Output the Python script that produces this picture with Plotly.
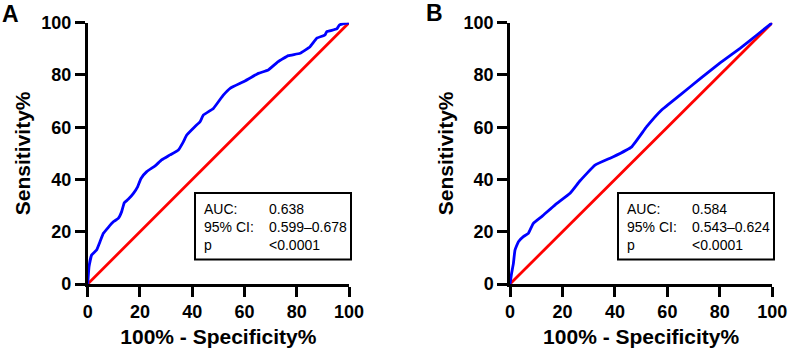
import plotly.graph_objects as go

# Panel A ROC curve (100% - Specificity%, Sensitivity%)
a_fpr = [0, 0.5, 1.5, 3.4, 4.7, 6.0, 7.9, 9.8, 11.7, 13.0, 14.0, 15.5, 17.5, 19.1, 20.4, 22.6,
         25.8, 28.3, 31.5, 34.7, 36.6, 37.9, 41.0, 43.0, 44.3, 48.1, 51.9, 54.5, 59.6, 65.3,
         69.1, 72.9, 76.8, 81.3, 85.1, 87.7, 90.8, 91.5, 95.3, 96.3, 98.5, 100]
a_tpr = [0, 6.6, 11.1, 13.0, 16.2, 19.4, 21.7, 23.8, 25.1, 27.7, 31.1, 32.4, 34.7, 37.2, 40.4, 43.0,
         45.2, 47.5, 49.4, 51.3, 54.4, 57.0, 60.2, 62.1, 64.7, 67.2, 72.3, 74.9, 77.4, 80.6,
         81.9, 85.1, 87.4, 88.3, 90.8, 94.1, 95.3, 96.6, 97.6, 99.1, 99.7, 100]

# Panel B ROC curve
b_fpr = [0, 0.6, 1.3, 1.9, 3.2, 5.1, 7.0, 8.9, 12.1, 17.2, 22.9, 26.7, 32.4, 39.4, 46.4,
         52.1, 57.8, 64.8, 72.4, 80.1, 87.7, 94.0, 100]
b_tpr = [0, 4.0, 7.9, 13.0, 16.2, 18.1, 19.4, 23.2, 25.8, 30.3, 34.7, 39.5, 45.5, 48.7, 52.5,
         60.2, 66.6, 72.3, 78.5, 84.6, 90.2, 95.2, 100]

ref_line = [0, 100]
tick_vals = [0, 20, 40, 60, 80, 100]

stats_labels = ["AUC:", "95% CI:", "p"]
a_stats = ["0.638", "0.599–0.678", "<0.0001"]
b_stats = ["0.584", "0.543–0.624", "<0.0001"]

BLUE = "#0000FF"
RED = "#FF0000"
FONT = "Liberation Sans, Arial, sans-serif"
W, H = 790, 355

fig = go.Figure()

for xa, ya, fpr, tpr in [("x", "y", a_fpr, a_tpr), ("x2", "y2", b_fpr, b_tpr)]:
    fig.add_trace(go.Scatter(x=ref_line, y=ref_line, mode="lines", xaxis=xa, yaxis=ya,
                             line=dict(color=RED, width=2.8), cliponaxis=False, showlegend=False))
    fig.add_trace(go.Scatter(x=fpr, y=tpr, mode="lines", xaxis=xa, yaxis=ya,
                             line=dict(color=BLUE, width=2.8, shape="spline", smoothing=0.3),
                             cliponaxis=False, showlegend=False))

axis_common = dict(range=[0, 100], tickvals=tick_vals, showgrid=False, zeroline=False,
                   showline=True, linecolor="black", linewidth=2.5, ticks="outside",
                   ticklen=10, tickwidth=2.5, tickcolor="black", automargin=False,
                   tickfont=dict(family=FONT, size=18, color="black", weight="bold"))

title_font = dict(family=FONT, size=21, color="black", weight="bold")

fig.update_layout(
    width=W, height=H,
    margin=dict(l=0, r=0, t=0, b=0),
    paper_bgcolor="white", plot_bgcolor="white",
    xaxis=dict(domain=[87.7/W, 349/W], anchor="y",
               title=dict(text="100% - Specificity%", font=title_font, standoff=8), **axis_common),
    yaxis=dict(domain=[1-284/H, 1-22.7/H], anchor="x",
               title=dict(text="Sensitivity%", font=title_font, standoff=5), **axis_common),
    xaxis2=dict(domain=[510/W, 772.3/W], anchor="y2",
                title=dict(text="100% - Specificity%", font=title_font, standoff=8), **axis_common),
    yaxis2=dict(domain=[1-284/H, 1-22.7/H], anchor="x2",
                title=dict(text="Sensitivity%", font=title_font, standoff=5), **axis_common),
)

# Panel letters
fig.add_annotation(text="<b>A</b>", x=0, y=1-14/H, xref="paper", yref="paper",
                   xanchor="left", yanchor="middle", showarrow=False,
                   font=dict(family=FONT, size=23, color="black"))
fig.add_annotation(text="<b>B</b>", x=424/W, y=1-13/H, xref="paper", yref="paper",
                   xanchor="left", yanchor="middle", showarrow=False,
                   font=dict(family=FONT, size=23, color="black"))

# Stats boxes (pixel geometry converted to paper coordinates)
for stats, bx0, bx1, lab_px, val_px in [(a_stats, 195, 351, 202, 267),
                                        (b_stats, 618, 774, 625, 690)]:
    fig.add_shape(type="rect", xref="paper", yref="paper",
                  x0=bx0/W, x1=bx1/W, y0=1-259.5/H, y1=1-193/H,
                  line=dict(color="black", width=2), fillcolor="white", layer="above")
    for i, (lab, val) in enumerate(zip(stats_labels, stats)):
        ypx = 209 + i * 18
        fig.add_annotation(text=lab, x=lab_px/W, y=1-ypx/H, xref="paper", yref="paper",
                           xanchor="left", yanchor="middle", showarrow=False,
                           font=dict(family=FONT, size=14, color="black"))
        fig.add_annotation(text=val, x=val_px/W, y=1-ypx/H, xref="paper", yref="paper",
                           xanchor="left", yanchor="middle", showarrow=False,
                           font=dict(family=FONT, size=14, color="black"))

fig.write_html("out.html")
